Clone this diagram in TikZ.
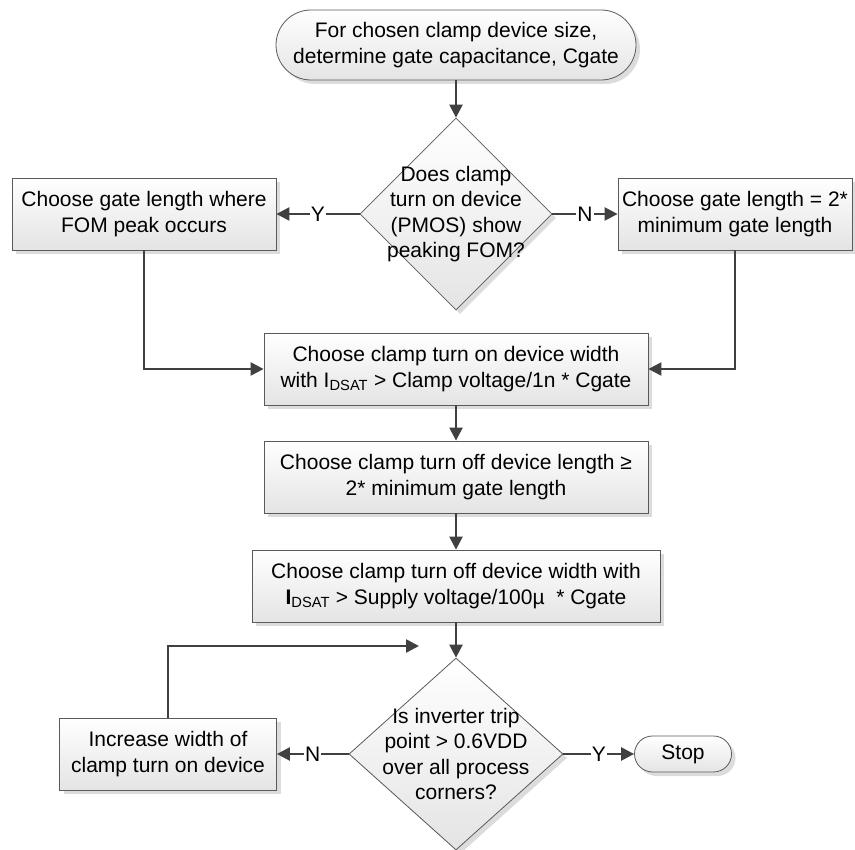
\documentclass[tikz,border=0pt]{standalone}
\usepackage{fontspec}
\setmainfont{Liberation Sans}
\usetikzlibrary{shapes.geometric,shapes.misc,arrows.meta,shadows}
\definecolor{bordergray}{HTML}{5A5A5A}
\definecolor{linegray}{HTML}{404040}
\definecolor{fillgray}{HTML}{E4E4E4}
\newcommand{\figfont}{\fontsize{21}{25.5}\selectfont}
\tikzset{
  shade/.style={top color=white, bottom color=fillgray,
    drop shadow={fill=gray!60, opacity=0.45, shadow xshift=4pt, shadow yshift=-4pt}},
  box/.style={draw=bordergray, line width=0.8pt, shade, minimum height=72, inner sep=0pt, align=center, font=\figfont},
  term/.style={rounded rectangle, draw=bordergray, line width=0.8pt, shade, inner sep=0pt, align=center, font=\figfont},
  dia/.style={diamond, draw=bordergray, line width=0.8pt, shade, inner sep=0pt},
  diatext/.style={align=center, font=\figfont, inner sep=0pt},
  conn/.style={draw=linegray, line width=2.4pt, -{Triangle[length=13pt,width=13pt]}},
  lbl/.style={fill=white, inner sep=1pt, font=\figfont, text=black}
}
\begin{document}
\begin{tikzpicture}[x=1pt,y=-1pt]
\useasboundingbox (0,0) rectangle (855,850);
\node[term, minimum width=360, minimum height=70] (start) at (456,45) {For chosen clamp device size,\\determine gate capacitance, Cgate};
\node[dia, minimum width=192, minimum height=192] (d1) at (456,214) {};
\node[diatext] (d1t) at (d1.center) {Does clamp\\turn on device\\(PMOS) show\\peaking FOM?};
\node[box, minimum width=264] (lb) at (144,214) {Choose gate length where\\FOM peak occurs};
\node[box, minimum width=234] (rb) at (735,214) {Choose gate length = 2*\\minimum gate length};
\node[box, minimum width=384] (b3) at (456,369) {Choose clamp turn on device width\\with I\textsubscript{DSAT} > Clamp voltage/1n * Cgate};
\node[box, minimum width=384] (b4) at (456,477) {Choose clamp turn off device length ≥\\2* minimum gate length};
\node[box, minimum width=408] (b5) at (456,586) {Choose clamp turn off device width with\\\textbf{I}\textsubscript{DSAT} > Supply voltage/100µ~ * Cgate};
\node[dia, minimum width=214, minimum height=192] (d2) at (456,754) {};
\node[diatext] (d2t) at (d2.center) {Is inverter trip\\point > 0.6VDD\\over all process\\corners?};
\node[box, minimum width=217] (inc) at (168,754) {Increase width of\\clamp turn on device};
\node[term, minimum width=97, minimum height=36] (stop) at (683,754) {Stop};
\coordinate (loopend) at (419,646);

\draw[conn] (start.south) -- (d1.north);
\draw[conn] (d1.west) -- node[lbl]{Y} (lb.east);
\draw[conn] (d1.east) -- node[lbl]{N} (rb.west);
\draw[conn] (lb.south) |- (b3.west);
\draw[conn] (rb.south) |- (b3.east);
\draw[conn] (b3.south) -- (b4.north);
\draw[conn] (b4.south) -- (b5.north);
\draw[conn] (b5.south) -- (d2.north);
\draw[conn] (d2.west) -- node[lbl]{N} (inc.east);
\draw[conn] (d2.east) -- node[lbl]{Y} (stop.west);
\draw[conn] (inc.north) |- (loopend);
\end{tikzpicture}
\end{document}
